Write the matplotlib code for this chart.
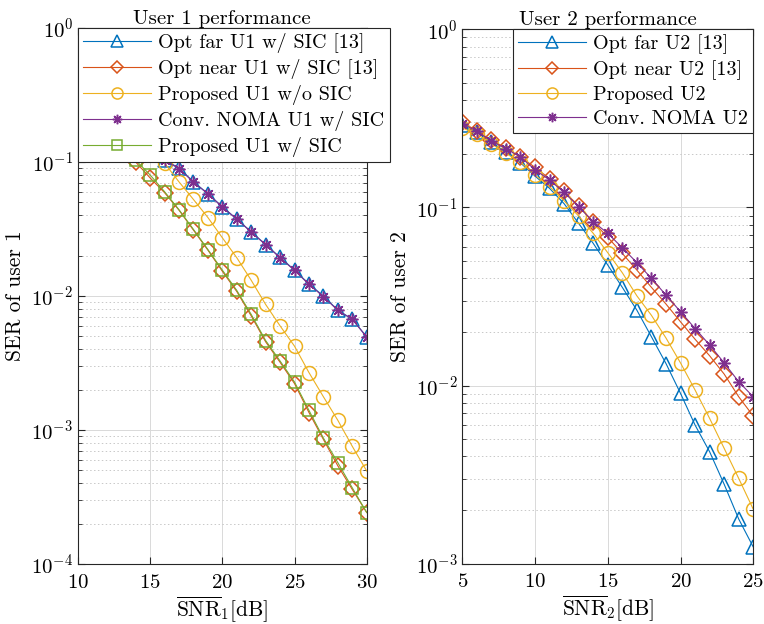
import matplotlib
matplotlib.use("Agg")
import matplotlib.pyplot as plt
import numpy as np

# ---- data ----
snr1 = list(range(10, 31))
u1_opt_far = [0.275, 0.245, 0.215, 0.185, 0.155, 0.128, 0.104, 0.090, 0.0711, 0.058, 0.0463,
              0.0375, 0.0301, 0.0242, 0.0194, 0.0156, 0.0123, 0.0100, 0.00783, 0.00671, 0.00495]
u1_opt_near = [0.236, 0.205, 0.170, 0.135, 0.100, 0.076, 0.059, 0.0437, 0.0310, 0.0220, 0.0153,
               0.0108, 0.00710, 0.00455, 0.00320, 0.00222, 0.00135, 0.00085, 0.00054, 0.00036, 0.000242]
u1_prop_nosic = [0.34, 0.29, 0.24, 0.195, 0.158, 0.125, 0.098, 0.071, 0.0525, 0.0385, 0.0272,
                 0.0193, 0.0131, 0.00864, 0.00598, 0.00422, 0.00268, 0.00177, 0.00118, 0.000755, 0.000494]
u1_conv = [0.27, 0.242, 0.213, 0.184, 0.154, 0.127, 0.103, 0.089, 0.0708, 0.0578, 0.0461,
           0.0374, 0.0300, 0.0241, 0.0193, 0.0155, 0.0122, 0.0099, 0.0078, 0.0067, 0.00493]
u1_prop_sic = [0.236, 0.205, 0.170, 0.135, 0.103, 0.080, 0.060, 0.0440, 0.0314, 0.0222, 0.0156,
               0.0110, 0.00728, 0.00465, 0.00327, 0.00228, 0.00140, 0.00087, 0.00057, 0.00037, 0.000242]

snr2 = list(range(5, 26))
u2_opt_far = [0.29, 0.265, 0.232, 0.205, 0.178, 0.150, 0.128, 0.105, 0.0814, 0.0629, 0.0475,
              0.0356, 0.0265, 0.0188, 0.0133, 0.00904, 0.0060, 0.00425, 0.00279, 0.00178, 0.00124]
u2_opt_near = [0.30, 0.27, 0.238, 0.216, 0.192, 0.168, 0.145, 0.123, 0.102, 0.083, 0.068,
               0.0552, 0.0445, 0.0356, 0.0287, 0.0228, 0.0182, 0.0147, 0.0116, 0.00865, 0.00674]
u2_prop = [0.28, 0.258, 0.228, 0.201, 0.180, 0.152, 0.131, 0.109, 0.0895, 0.0716, 0.0557,
           0.0430, 0.0319, 0.0248, 0.0185, 0.0134, 0.00944, 0.00654, 0.00444, 0.00301, 0.00202]
u2_conv = [0.296, 0.268, 0.236, 0.214, 0.192, 0.163, 0.1425, 0.1215, 0.101, 0.0831, 0.0716,
           0.0594, 0.0490, 0.0400, 0.0322, 0.0260, 0.0209, 0.0169, 0.0134, 0.0105, 0.00865]

labels1 = ["Opt far U1 w/ SIC [13]", "Opt near U1 w/ SIC [13]", "Proposed U1 w/o SIC",
           "Conv. NOMA U1 w/ SIC", "Proposed U1 w/ SIC"]
labels2 = ["Opt far U2 [13]", "Opt near U2 [13]", "Proposed U2", "Conv. NOMA U2"]

# MATLAB default colours
c_blue, c_orange, c_yellow, c_purple, c_green = "#0072BD", "#D95319", "#EDB120", "#7E2F8E", "#77AC30"

plt.rcParams["font.family"] = "cmr10"
plt.rcParams["mathtext.fontset"] = "cm"
plt.rcParams["axes.formatter.use_mathtext"] = True
plt.rcParams["axes.unicode_minus"] = False

fig = plt.figure(figsize=(7.64, 6.24), dpi=100)
ax1 = fig.add_axes([0.102, 0.0962, 0.378, 0.859])
ax2 = fig.add_axes([0.605, 0.0966, 0.381, 0.8564])

ms = 10
lw = 0.8
mew = 1.1
star = (8, 2, 0)


def style(ax, xticks, ylim):
    ax.set_yscale("log")
    ax.set_ylim(*ylim)
    ax.set_xlim(xticks[0], xticks[-1])
    ax.set_xticks(xticks)
    ax.grid(True, which="major", color="#d9d9d9", linewidth=0.7, linestyle="-")
    ax.grid(True, which="minor", axis="y", color="#c8c8c8", linewidth=0.7, linestyle=(0, (1.5, 2.5)))
    ax.set_axisbelow(True)
    ax.tick_params(which="both", direction="in", top=True, right=True, labelsize=15,
                   colors="#262626", labelcolor="black")
    ax.tick_params(axis="x", pad=7)
    ax.tick_params(which="major", length=5)
    ax.tick_params(which="minor", length=3)
    for s in ax.spines.values():
        s.set_color("#262626")
        s.set_linewidth(0.8)


def legend(ax, loc, anchor):
    leg = ax.legend(loc=loc, bbox_to_anchor=anchor, fontsize=14.5, handlelength=3.4,
                    labelspacing=0.3, borderaxespad=0.0, fancybox=False, framealpha=1,
                    edgecolor="#262626", borderpad=0.25, handletextpad=0.35, markerscale=0.8)
    leg.get_frame().set_linewidth(0.8)


# ---- user 1 ----
ax1.plot(snr1, u1_opt_far, color=c_blue, marker="^", ms=ms, mfc="none", lw=lw, mew=mew, label=labels1[0])
ax1.plot(snr1, u1_opt_near, color=c_orange, marker="D", ms=ms * 0.8, mfc="none", lw=lw, mew=mew, label=labels1[1])
ax1.plot(snr1, u1_prop_nosic, color=c_yellow, marker="o", ms=ms, mfc="none", lw=lw, mew=mew, label=labels1[2])
ax1.plot(snr1, u1_conv, color=c_purple, marker=star, ms=ms * 0.85, lw=lw, mew=mew, label=labels1[3])
ax1.plot(snr1, u1_prop_sic, color=c_green, marker="s", ms=ms * 0.85, mfc="none", lw=lw, mew=mew, label=labels1[4])
style(ax1, [10, 15, 20, 25, 30], (1e-4, 1))
ax1.set_title("User 1 performance", fontsize=15, pad=3)
ax1.set_ylabel("SER of user 1", fontsize=15.5)
ax1.set_xlabel(r"$\overline{\mathrm{SNR}}_1[\mathrm{dB}]$", fontsize=15.5, labelpad=2)
legend(ax1, "upper left", (0.0, 1.0))

# ---- user 2 ----
ax2.plot(snr2, u2_opt_far, color=c_blue, marker="^", ms=ms, mfc="none", lw=lw, mew=mew, label=labels2[0])
ax2.plot(snr2, u2_opt_near, color=c_orange, marker="D", ms=ms * 0.8, mfc="none", lw=lw, mew=mew, label=labels2[1])
ax2.plot(snr2, u2_prop, color=c_yellow, marker="o", ms=ms, mfc="none", lw=lw, mew=mew, label=labels2[2])
ax2.plot(snr2, u2_conv, color=c_purple, marker=star, ms=ms * 0.85, lw=lw, mew=mew, label=labels2[3])
style(ax2, [5, 10, 15, 20, 25], (1e-3, 1))
ax2.set_title("User 2 performance", fontsize=15, pad=3)
ax2.set_ylabel("SER of user 2", fontsize=15.5)
ax2.set_xlabel(r"$\overline{\mathrm{SNR}}_2[\mathrm{dB}]$", fontsize=15.5, labelpad=2)
legend(ax2, "upper right", (1.0, 1.0))

fig.savefig("out.png", dpi=100)
